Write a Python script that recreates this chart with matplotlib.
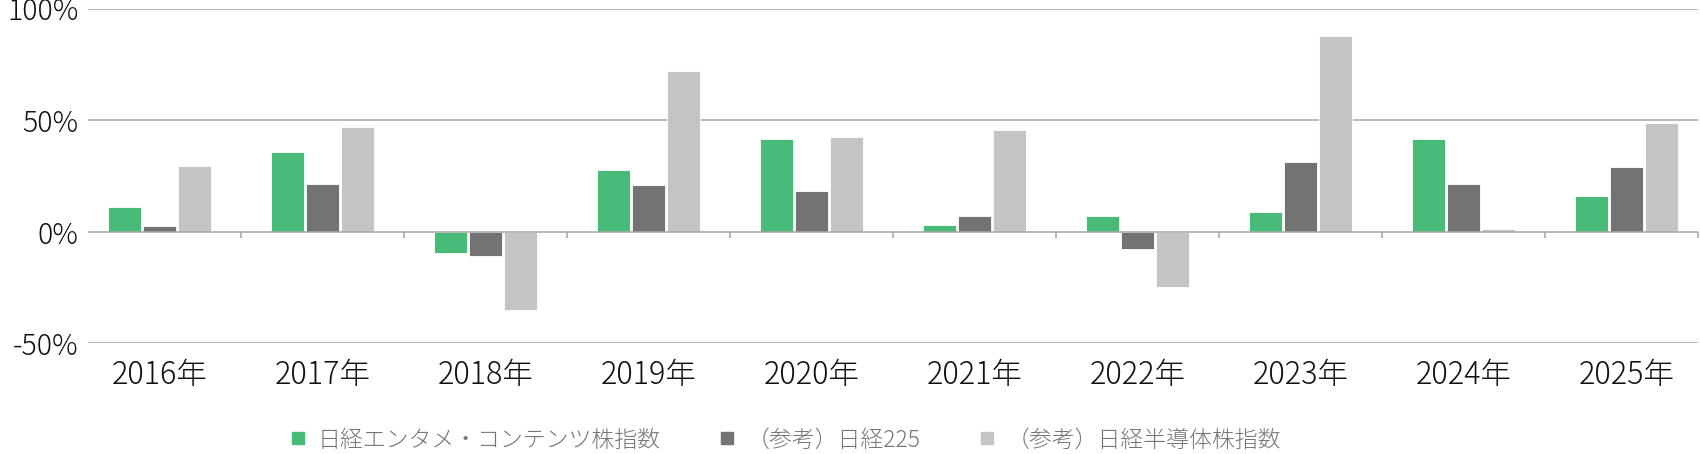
import matplotlib
matplotlib.use("Agg")
import matplotlib.pyplot as plt
from matplotlib.lines import Line2D
import numpy as np

plt.rcParams["font.family"] = ["Noto Sans CJK JP", "DejaVu Sans"]
plt.rcParams["font.weight"] = "light"

# ── Data (annual returns, %) ─────────────────────────────────────────────
years = ["2016年", "2017年", "2018年", "2019年", "2020年",
         "2021年", "2022年", "2023年", "2024年", "2025年"]
entame = [11.2, 35.7, -9.4, 27.7, 41.7, 3.1, 7.0, 8.8, 41.4, 15.9]
nikkei225 = [2.6, 21.4, -10.8, 20.9, 18.4, 6.9, -7.6, 31.1, 21.4, 29.0]
semicon = [29.5, 47.1, -35.1, 71.9, 42.3, 45.6, -24.9, 87.6, 1.1, 48.7]

series_labels = ["日経エンタメ・コンテンツ株指数", "（参考）日経225", "（参考）日経半導体株指数"]
colors = ["#48BB78", "#737373", "#C4C4C4"]
yticks = [-50, 0, 50, 100]

W, H = 1700, 454
fig = plt.figure(figsize=(W / 100, H / 100), dpi=100)
ax = fig.add_axes([88 / W, (H - 343.3) / H, (1698 - 88) / W, (343.3 - 8.7) / H])

x = np.arange(len(years))
bar_w = 0.2
step = 0.216
for i, (vals, c) in enumerate(zip([entame, nikkei225, semicon], colors)):
    ax.bar(x + (i - 1) * step, vals, width=bar_w, color=c,
           edgecolor="white", linewidth=0.6, zorder=2)

grid_c = "#A6A6A6"
for yv in yticks:
    ax.axhline(yv, color=grid_c, linewidth=1.1, zorder=1 if yv else 3)

ax.set_xlim(-0.439, 9.439)
ax.set_ylim(-50, 100)
for s in ax.spines.values():
    s.set_visible(False)

ax.set_yticks(yticks)
ax.set_yticklabels([f"{v}%" for v in yticks])
ax.tick_params(axis="y", length=0, pad=7, labelsize=20.5, labelcolor="#111111")

ax.set_xticks(x)
ax.set_xticklabels(years)
ax.tick_params(axis="x", length=0, pad=11, labelsize=22, labelcolor="#111111")

# small separators hanging below the zero line
sep = list(x[:-1] + 0.5) + [9.439]
ax.vlines(sep, -2.6, 0, color=grid_c, linewidth=1.1, zorder=3, clip_on=False)

handles = [Line2D([], [], marker="s", linestyle="none", markersize=8.8,
                  markerfacecolor=c, markeredgecolor=c) for c in colors]
leg = fig.legend(handles, series_labels, loc="center", ncol=3,
                 bbox_to_anchor=(786 / W, 1 - 440 / H), frameon=False,
                 fontsize=16.5, handlelength=0.6, handletextpad=0.55,
                 columnspacing=2.6, borderpad=0)
for t in leg.get_texts():
    t.set_color("#767676")

fig.savefig("out.png", dpi=100, facecolor="white")
